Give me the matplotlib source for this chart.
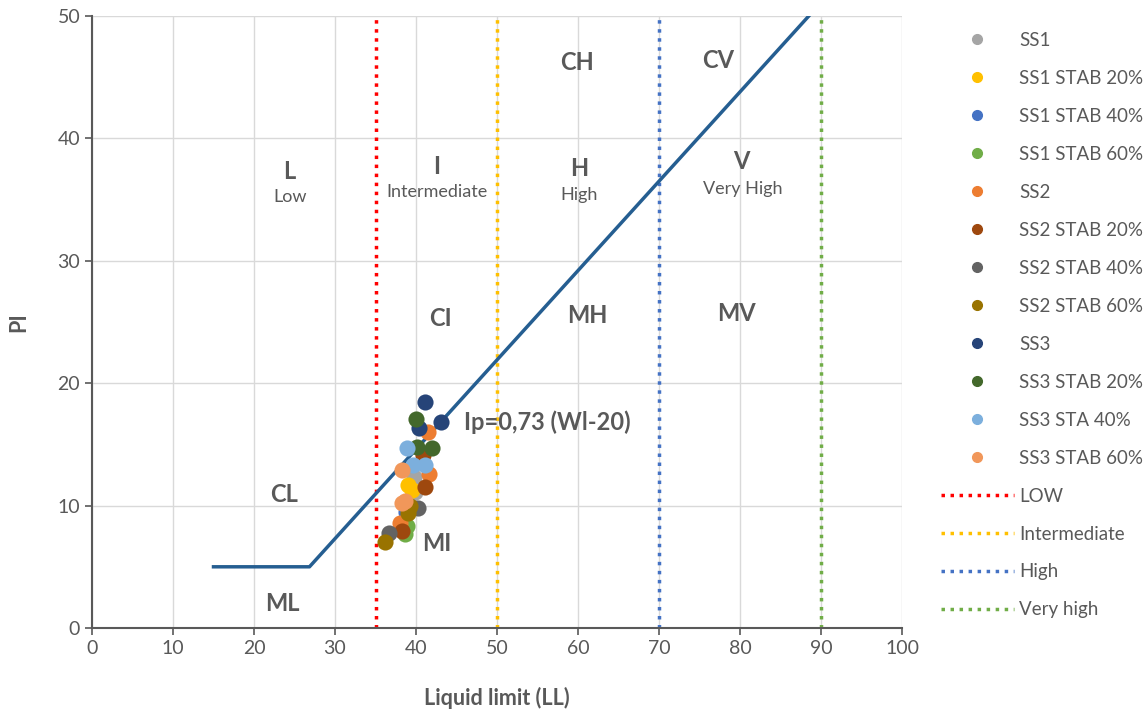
import matplotlib
matplotlib.use("Agg")
import matplotlib.pyplot as plt

plt.rcParams['font.family'] = ['Lato', 'DejaVu Sans']

# sample series: liquid limit (LL) and plasticity index (PI)
series = ["SS1", "SS1 STAB 20%", "SS1 STAB 40%", "SS1 STAB 60%",
          "SS2", "SS2 STAB 20%", "SS2 STAB 40%", "SS2 STAB 60%",
          "SS3", "SS3 STAB 20%", "SS3 STA 40%", "SS3 STAB 60%"]
colors = ["#A5A5A5", "#FFC000", "#4472C4", "#70AD47",
          "#ED7D31", "#9E480E", "#636363", "#997300",
          "#264478", "#43682B", "#7CAFDD", "#F1975A"]
ll = [[39.8, 39.9], [39.0, 39.5], [38.8, 39.2], [38.7, 38.9],
      [41.6, 38.0, 41.5], [41.1, 38.3, 40.9], [40.2, 36.7], [39.0, 36.2, 39.3],
      [41.1, 43.1, 40.4], [40.0, 42.0, 40.1], [38.9, 39.6, 41.1], [38.3, 38.3, 38.6]]
pi = [[12.3, 11.1], [11.7, 11.3], [9.5, 9.9], [7.7, 8.3],
      [12.6, 8.6, 16.0], [11.5, 7.9, 14.1], [9.8, 7.8], [9.4, 7.0, 10.0],
      [18.5, 16.8, 16.3], [17.1, 14.7, 14.8], [14.7, 13.3, 13.3], [12.9, 10.2, 10.4]]

# A-line: flat at PI=5, then Ip = 0.73 (wL - 20)
x_knee = 20 + 5 / 0.73
aline_x = [15, x_knee, 88.5]
aline_y = [5, 5, 0.73 * (88.5 - 20)]

limits = [35, 50, 70, 90]
limit_names = ["LOW", "Intermediate", "High", "Very high"]
limit_colors = ["#FF0000", "#FFC000", "#4472C4", "#70AD47"]

TXT = "#595959"

fig = plt.figure(figsize=(11.48, 7.16), dpi=100)
ax = fig.add_axes([92 / 1148, 88 / 716, 810 / 1148, 612 / 716])
ax.grid(True, color="#D9D9D9", linewidth=1, zorder=0)

handles = []
for name, c, xs, ys in zip(series, colors, ll, pi):
    ax.scatter(xs, ys, s=135, color=c, zorder=4, linewidths=0)
    h, = ax.plot([], [], 'o', color=c, markersize=7, label=name)
    handles.append(h)

for xv, name, c in zip(limits, limit_names, limit_colors):
    h = ax.axvline(xv, color=c, linestyle=(0, (1, 1.6)), linewidth=2.5, zorder=2, label=name)
    handles.append(h)

ax.plot(aline_x, aline_y, color="#255E91", linewidth=2.5, zorder=3)

big = dict(fontsize=17, fontweight='bold', color=TXT, ha='center', va='center')
small = dict(fontsize=13, color=TXT, ha='center', va='center')
ax.text(59.9, 46.2, "CH", **big)
ax.text(77.3, 46.4, "CV", **big)
ax.text(24.4, 37.3, "L", **big)
ax.text(24.4, 35.2, "Low", **small)
ax.text(42.6, 37.7, "I", **big)
ax.text(42.6, 35.6, "Intermediate", **small)
ax.text(60.1, 37.5, "H", **big)
ax.text(60.1, 35.4, "High", **small)
ax.text(80.2, 38.1, "V", **big)
ax.text(80.3, 35.9, "Very High", **small)
ax.text(43.0, 25.3, "CI", **big)
ax.text(61.1, 25.5, "MH", **big)
ax.text(79.5, 25.7, "MV", **big)
ax.text(23.7, 10.9, "CL", **big)
ax.text(42.6, 6.9, "MI", **big)
ax.text(23.5, 2.0, "ML", **big)
ax.text(56.2, 16.8, "Ip=0,73 (Wl-20)", fontsize=17, fontweight='bold', color=TXT,
        ha='center', va='center')

ax.set_xlim(0, 100)
ax.set_ylim(0, 50)
ax.set_xticks(range(0, 101, 10))
ax.set_yticks(range(0, 51, 10))
ax.tick_params(colors=TXT, labelsize=14, length=5, width=1.2, direction='out')
for s in ["top", "right"]:
    ax.spines[s].set_visible(False)
for s in ["left", "bottom"]:
    ax.spines[s].set_color(TXT)
    ax.spines[s].set_linewidth(1.5)

ax.set_xlabel("Liquid limit (LL)", fontsize=15.5, fontweight='bold', color=TXT, labelpad=22)
ax.set_ylabel("PI", fontsize=15.5, fontweight='bold', color=TXT, labelpad=20)

leg = fig.legend(handles=handles, loc='upper left', bbox_to_anchor=(933 / 1148, 1 - 24 / 716),
                 frameon=False, fontsize=13.5, handlelength=3.9, handletextpad=0.3,
                 labelspacing=1.12, borderaxespad=0)
for t in leg.get_texts():
    t.set_color(TXT)

fig.savefig("out.png", dpi=100)
